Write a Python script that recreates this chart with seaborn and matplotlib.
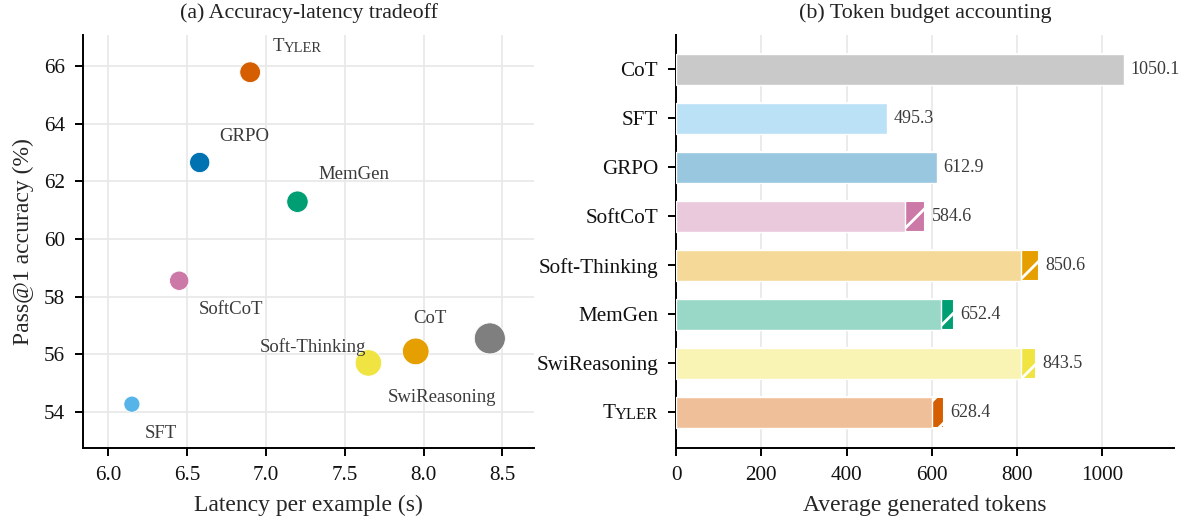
import numpy as np
import pandas as pd
import matplotlib
matplotlib.use("Agg")
import matplotlib.pyplot as plt
import seaborn as sns

# ---------------- data ----------------
methods = ["CoT", "SFT", "GRPO", "SoftCoT", "Soft-Thinking", "MemGen", "SwiReasoning", "Tyler"]
latency = [8.42, 6.15, 6.58, 6.45, 7.95, 7.20, 7.65, 6.90]
accuracy = [56.55, 54.27, 62.65, 58.55, 56.10, 61.29, 55.70, 65.78]
tokens_total = [1050.1, 495.3, 612.9, 584.6, 850.6, 652.4, 843.5, 628.4]
tokens_overhead = [0.0, 0.0, 0.0, 48.6, 40.6, 31.4, 34.5, 27.4]
value_labels = ["1050.1", "495.3", "612.9", "584.6", "850.6", "652.4", "843.5", "628.4"]
x_ticks_a = [6.0, 6.5, 7.0, 7.5, 8.0, 8.5]
y_ticks_a = [54, 56, 58, 60, 62, 64, 66]
x_ticks_b = [0, 200, 400, 600, 800, 1000]

# ---------------- style ----------------
colors = ["#7f7f7f", "#56B4E9", "#0072B2", "#CC79A7", "#E69F00", "#009E73", "#F0E442", "#D55E00"]
palette = dict(zip(methods, colors))

def lighten(c, a=0.4):
    r = np.array(matplotlib.colors.to_rgb(c))
    return tuple(1 - a * (1 - r))

light_palette = {m: lighten(c, 0.42 if m == "CoT" else 0.4) for m, c in palette.items()}

sns.set_style("ticks")
plt.rcParams["font.family"] = ["Liberation Serif", "DejaVu Serif"]
plt.rcParams["mathtext.fontset"] = "stix"
plt.rcParams["hatch.color"] = "white"
plt.rcParams["hatch.linewidth"] = 2.0

TICK_FS = 15.2
LABEL_FS = 17
TITLE_FS = 15.8
ANN_FS = 13.5
VAL_FS = 13
TXT = "#3a3a3a"

fig = plt.figure(figsize=(11.92, 5.24), dpi=100)
W, H = 1192, 524
ax1 = fig.add_axes([83 / W, 1 - 448 / H, (534 - 83) / W, (448 - 35) / H])
ax2 = fig.add_axes([676 / W, 1 - 448 / H, (1174 - 676) / W, (448 - 35) / H])

df = pd.DataFrame({"method": methods, "latency": latency, "accuracy": accuracy,
                   "tokens": tokens_total, "overhead": tokens_overhead})
df["base"] = df["tokens"] - df["overhead"]


def smallcaps(ax, word, xy, xycoords, offset, ha, size, color):
    first, rest = word[0].upper(), word[1:].upper()
    if ha == "left":
        t1 = ax.annotate(first, xy=xy, xycoords=xycoords, xytext=offset,
                         textcoords="offset points", ha="left", va="baseline",
                         fontsize=size, color=color, annotation_clip=False)
        ax.annotate(rest, xy=(1, 0), xycoords=t1, ha="left", va="bottom",
                    fontsize=size * 0.78, color=color, annotation_clip=False)
    else:
        t2 = ax.annotate(rest, xy=xy, xycoords=xycoords, xytext=offset,
                         textcoords="offset points", ha="right", va="baseline",
                         fontsize=size * 0.78, color=color, annotation_clip=False)
        ax.annotate(first, xy=(0, 0), xycoords=t2, ha="right", va="bottom",
                    fontsize=size, color=color, annotation_clip=False)


# ---------------- (a) scatter ----------------
sns.scatterplot(data=df, x="latency", y="accuracy", hue="method", palette=palette,
                size="tokens", sizes=(135, 500), size_norm=(min(tokens_total), max(tokens_total)),
                legend=False, ax=ax1, edgecolor="white", linewidth=0.6, zorder=3)

# label offsets (points) and alignment
label_offsets = {
    "CoT": ((-55, 14), "left"),
    "SFT": ((9.5, -21), "left"),
    "GRPO": ((14, 19), "left"),
    "SoftCoT": ((14, -21), "left"),
    "Soft-Thinking": ((-36, 3), "right"),
    "MemGen": ((15, 19.5), "left"),
    "SwiReasoning": ((14, -25), "left"),
    "Tyler": ((16, 19.5), "left"),
}
for m, x, y in zip(methods, latency, accuracy):
    (dx, dy), ha = label_offsets[m]
    if m == "Tyler":
        smallcaps(ax1, m, (x, y), "data", (dx, dy - 0.33 * ANN_FS), ha, ANN_FS, TXT)
    else:
        ax1.annotate(m, xy=(x, y), xytext=(dx, dy), textcoords="offset points",
                     ha=ha, va="center", fontsize=ANN_FS, color=TXT)

ax1.set_xlim(5.84, 8.70)
ax1.set_ylim(52.75, 67.07)
ax1.set_xticks(x_ticks_a)
ax1.set_xticklabels([f"{v:.1f}" for v in x_ticks_a])
ax1.set_yticks(y_ticks_a)
ax1.grid(True, color="#e8e8e8", linewidth=1.2)
ax1.set_axisbelow(True)
ax1.set_xlabel("Latency per example (s)", fontsize=LABEL_FS, labelpad=7)
ax1.set_ylabel("Pass@1 accuracy (%)", fontsize=LABEL_FS, labelpad=7)
ax1.set_title("(a) Accuracy-latency tradeoff", fontsize=TITLE_FS, pad=12, color="#222222")

# ---------------- (b) bars ----------------
sns.barplot(data=df, x="tokens", y="method", hue="method", palette=palette, orient="h",
            width=0.64, saturation=1, legend=False, ax=ax2, hatch="/",
            edgecolor="white", linewidth=1.5, zorder=2)
sns.barplot(data=df, x="base", y="method", hue="method", palette=light_palette, orient="h",
            width=0.64, saturation=1, legend=False, ax=ax2,
            edgecolor="white", linewidth=1.0, zorder=3)
for m, t, lab in zip(methods, tokens_total, value_labels):
    ax2.annotate(lab, xy=(t, m), xytext=(4.5, 0), textcoords="offset points",
                 ha="left", va="center", fontsize=VAL_FS, color=TXT)

ax2.set_xlim(0, 1168)
ax2.set_ylim(7.73, -0.7)
ax2.set_xticks(x_ticks_b)
ax2.grid(True, axis="x", color="#e8e8e8", linewidth=1.2)
ax2.grid(False, axis="y")
ax2.set_axisbelow(True)
ax2.set_xlabel("Average generated tokens", fontsize=LABEL_FS, labelpad=7)
ax2.set_ylabel("")
ax2.set_title("(b) Token budget accounting", fontsize=TITLE_FS, pad=12, color="#222222")

ylabels = [("" if m == "Tyler" else m) for m in methods]
ax2.set_yticks(range(len(methods)))
ax2.set_yticklabels(ylabels)

for ax in (ax1, ax2):
    sns.despine(ax=ax)
    for s in ("left", "bottom"):
        ax.spines[s].set_linewidth(1.4)
        ax.spines[s].set_color("black")
    ax.tick_params(axis="both", labelsize=TICK_FS, length=5.8, width=1.4, pad=7,
                   color="black", labelcolor="#111111")

TICK_TOTAL = 5.8 + 7
smallcaps(ax2, "Tyler", (0, methods.index("Tyler")), ax2.get_yaxis_transform(),
          (-TICK_TOTAL, -0.33 * TICK_FS), "right", TICK_FS, "#111111")

fig.savefig("out.png", dpi=100)
